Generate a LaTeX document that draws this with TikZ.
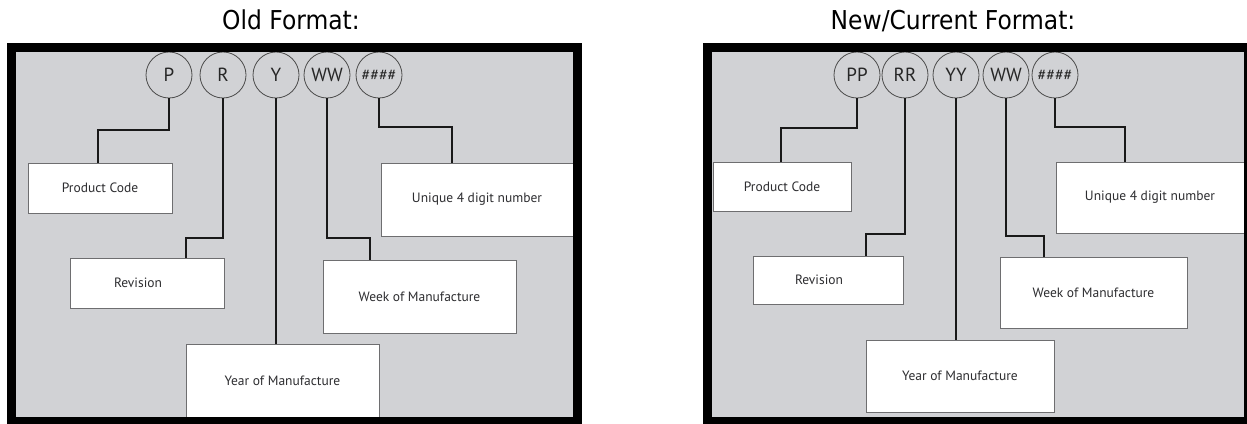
\documentclass[tikz,border=0pt]{standalone}
\usepackage{fontspec}
\setmainfont{PT Sans}
\newfontfamily\titlefont[FakeStretch=0.9]{DejaVu Sans}

\definecolor{panelgray}{RGB}{209,210,213}
\definecolor{boxgray}{RGB}{110,110,112}
\definecolor{labeltext}{RGB}{45,45,48}

\tikzset{heading/.style = {anchor=base, inner sep=0pt,
                           font=\titlefont\fontsize{26}{30}\selectfont},
         infobox/.style 2 args = {draw=boxgray, fill=white, line width=0.9pt,
                                  minimum width=#1, minimum height=#2, inner sep=0pt,
                                  text=labeltext,
                                  font=\fontsize{13.5}{16}\selectfont},
         digit/.style = {circle, draw=black!70, line width=0.8pt, fill=panelgray,
                         minimum size=46pt, inner sep=0pt, text=black!85,
                         font=\fontsize{19}{21}\selectfont},
         hashes/.style = {font=\fontsize{16}{18}\selectfont},
         wire/.style = {line width=1.8pt, black!90},
         panel/.style = {line width=9pt, black}
        }

\begin{document}
\begin{tikzpicture}[x=1pt, y=-1pt]
  \useasboundingbox (0,0) rectangle (1247,423);

  % ---- old layout
  \node[heading] (otitle) at (291,29) {Old Format:};
  \fill[panelgray] (11.5,47.5) rectangle (577,421.5);

  \node[infobox={144pt}{50pt}] (oprod) at (100,188)   {Product Code};
  \node[infobox={154pt}{50pt}] (orev)  at (147,283)   {Revision\hspace*{18pt}};
  \node[infobox={193pt}{74pt}] (oyear) at (282.5,381) {Year of Manufacture};
  \node[infobox={193pt}{73pt}] (oweek) at (419.5,296.5) {Week of Manufacture};
  \node[infobox={192pt}{73pt}] (ouniq) at (477,199.5) {Unique 4 digit number};

  \node[digit] (oP) at (169,75) {P};
  \node[digit] (oR) at (223,75) {R};
  \node[digit] (oY) at (276,75) {Y};
  \node[digit] (oW) at (327,75) {WW};
  \node[digit, hashes] (oN) at (379,75) {\#\#\#\#};

  \coordinate (oPk) at (98,130);
  \coordinate (oRk) at (186,238);
  \coordinate (oWk) at (370,238);
  \coordinate (oNk) at (452,127);

  \draw[wire] (oP.south) |- (oPk) -- (oPk |- oprod.north);
  \draw[wire] (oR.south) |- (oRk) -- (oRk |- orev.north);
  \draw[wire] (oY.south) -- (oY.south |- oyear.north);
  \draw[wire] (oW.south) |- (oWk) -- (oWk |- oweek.north);
  \draw[wire] (oN.south) |- (oNk) -- (oNk |- ouniq.north);

  \draw[panel] (11.5,47.5) rectangle (577,421.5);

  % ---- new / current layout
  \node[heading] (ntitle) at (953,29) {New/Current Format:};
  \fill[panelgray] (707.5,47.5) rectangle (1248.5,421.5);

  \node[infobox={138pt}{49pt}] (nprod) at (782,186.5)  {Product Code};
  \node[infobox={150pt}{48pt}] (nrev)  at (828,280)    {Revision\hspace*{18pt}};
  \node[infobox={188pt}{72pt}] (nyear) at (960,376)    {Year of Manufacture};
  \node[infobox={187pt}{71pt}] (nweek) at (1093.5,292.5) {Week of Manufacture};
  \node[infobox={188pt}{71pt}] (nuniq) at (1150,197.5) {Unique 4 digit number};

  \node[digit] (nP) at (857,75)  {PP};
  \node[digit] (nR) at (905,75)  {RR};
  \node[digit] (nY) at (956,75)  {YY};
  \node[digit] (nW) at (1006,75) {WW};
  \node[digit, hashes] (nN) at (1055,75) {\#\#\#\#};

  \coordinate (nPk) at (781,128);
  \coordinate (nRk) at (866,234);
  \coordinate (nWk) at (1044,236);
  \coordinate (nNk) at (1125,127);

  \draw[wire] (nP.south) |- (nPk) -- (nPk |- nprod.north);
  \draw[wire] (nR.south) |- (nRk) -- (nRk |- nrev.north);
  \draw[wire] (nY.south) -- (nY.south |- nyear.north);
  \draw[wire] (nW.south) |- (nWk) -- (nWk |- nweek.north);
  \draw[wire] (nN.south) |- (nNk) -- (nNk |- nuniq.north);

  \draw[panel] (707.5,47.5) rectangle (1248.5,421.5);
\end{tikzpicture}
\end{document}
